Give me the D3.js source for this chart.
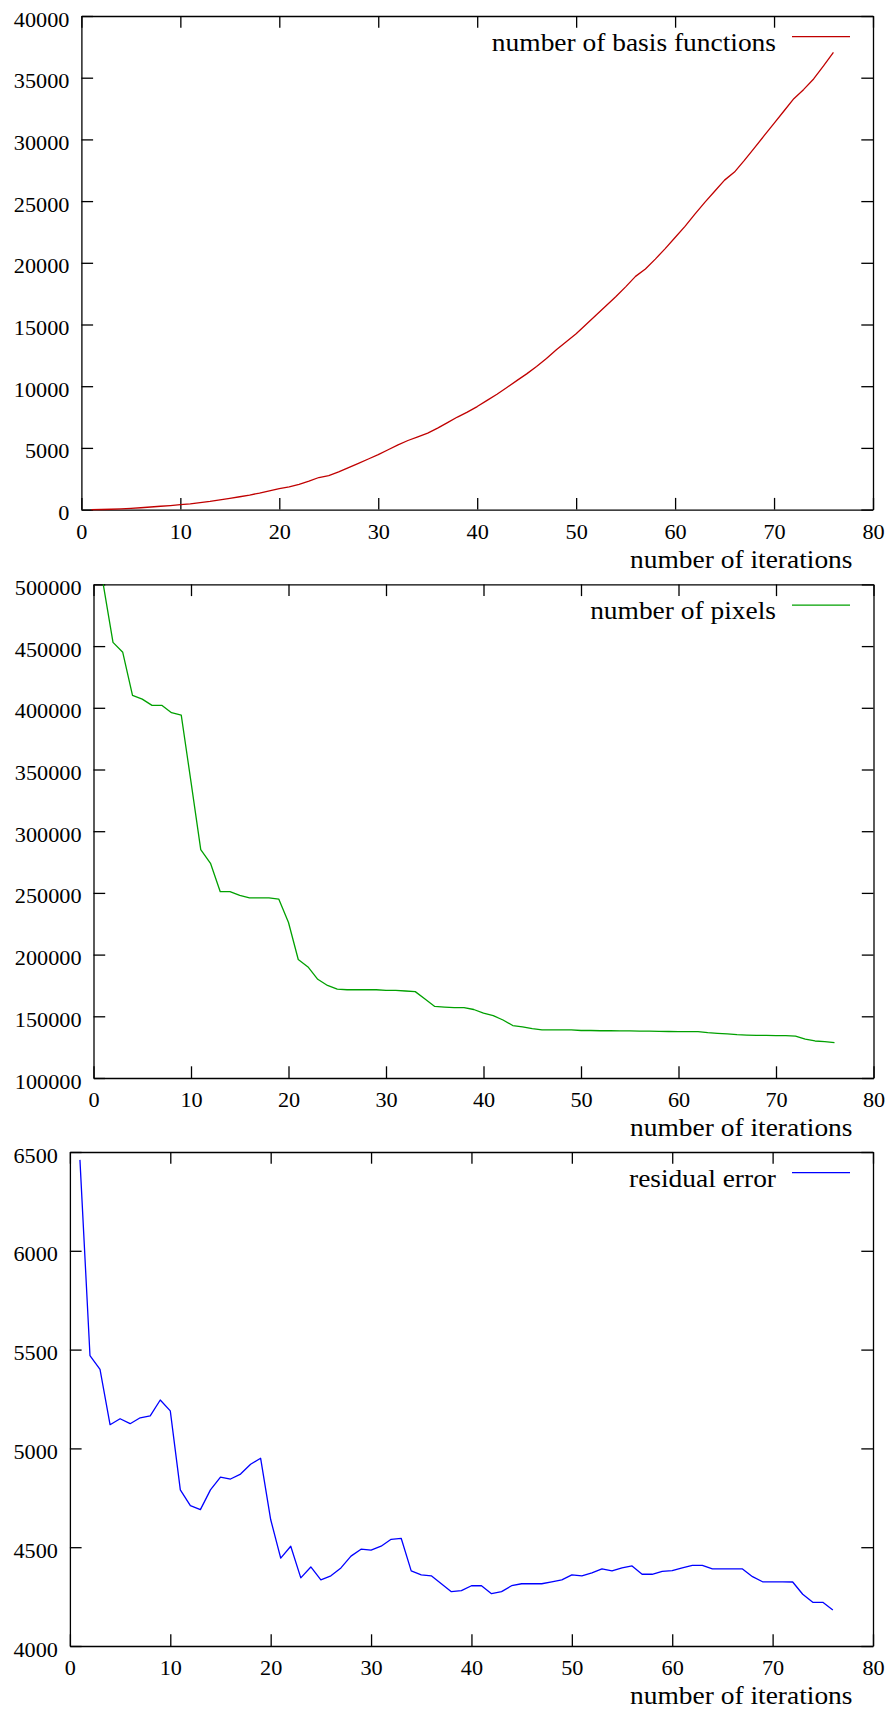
<!DOCTYPE html>
<html>
<head>
<meta charset="utf-8">
<script src="https://cdn.jsdelivr.net/npm/d3@7"></script>
<style>
  body { margin: 0; background: #fff; }
  svg { display: block; }
  text { font-family: "Liberation Serif", "Times New Roman", serif; fill: #000; }
</style>
</head>
<body>
<div id="chart"></div>
<script>
"use strict"

// iteration index for every series
const iterations = [
  1, 2, 3, 4, 5, 6, 7, 8, 9, 10, 11, 12, 13, 14, 15, 16, 17, 18, 19, 20,
  21, 22, 23, 24, 25, 26, 27, 28, 29, 30, 31, 32, 33, 34, 35, 36, 37, 38, 39, 40,
  41, 42, 43, 44, 45, 46, 47, 48, 49, 50, 51, 52, 53, 54, 55, 56, 57, 58, 59, 60,
  61, 62, 63, 64, 65, 66, 67, 68, 69, 70, 71, 72, 73, 74, 75, 76]

const basisFunctions = [
  0, 10, 30, 60, 100, 150, 210, 270, 330, 400,
  470, 560, 660, 780, 910, 1040, 1180, 1340, 1520, 1700,
  1850, 2050, 2300, 2600, 2750, 3050, 3400, 3750, 4100, 4450,
  4850, 5250, 5600, 5900, 6200, 6600, 7050, 7500, 7900, 8350,
  8850, 9350, 9900, 10450, 11000, 11600, 12250, 12950, 13600, 14250,
  15000, 15750, 16500, 17250, 18050, 18900, 19500, 20300, 21150, 22050,
  22950, 23950, 24900, 25800, 26700, 27350, 28300, 29300, 30300, 31300,
  32300, 33300, 34050, 34900, 35950, 37050]

const pixels = [
  500000, 453000, 445000, 410000, 407000, 402000, 402000, 396000, 394000, 340000,
  285000, 274000, 251000, 251000, 248000, 246000, 246000, 246000, 245000, 226000,
  196000, 190000, 180000, 175000, 172000, 171500, 171500, 171500, 171500, 171000,
  171000, 170500, 170000, 164000, 158000, 157500, 157000, 157000, 155500, 152500,
  150500, 147000, 142500, 141500, 140000, 139000, 139000, 139000, 139000, 138500,
  138500, 138300, 138300, 138200, 138200, 138000, 138000, 137800, 137700, 137600,
  137600, 137500, 136700, 136200, 135800, 135100, 134800, 134600, 134500, 134400,
  134300, 134000, 131500, 130000, 129500, 128600]

const residualError = [
  6460, 5470, 5400, 5120, 5150, 5125, 5155, 5165, 5245, 5190,
  4790, 4710, 4690, 4790, 4855, 4845, 4870, 4920, 4950, 4640,
  4445, 4505, 4345, 4400, 4335, 4355, 4395, 4455, 4490, 4485,
  4505, 4540, 4545, 4380, 4360, 4355, 4315, 4275, 4280, 4305,
  4305, 4265, 4275, 4305, 4315, 4315, 4315, 4325, 4335, 4360,
  4355, 4370, 4390, 4380, 4395, 4405, 4363, 4363, 4378, 4381,
  4395, 4408, 4408, 4390, 4390, 4390, 4390, 4351, 4325, 4325,
  4325, 4324, 4262, 4221, 4221, 4182]

const xTicks = [0, 10, 20, 30, 40, 50, 60, 70, 80]
const basisTicks = [0, 5000, 10000, 15000, 20000, 25000, 30000, 35000, 40000]
const pixelTicks = [100000, 150000, 200000, 250000, 300000, 350000, 400000, 450000, 500000]
const errorTicks = [4000, 4500, 5000, 5500, 6000, 6500]

const xLabel = "number of iterations"

const width = 891, height = 1713
const tickLen = 11.7
const FONT = '"Liberation Serif", "Times New Roman", serif'

const svg = d3.select("#chart")
  .append("svg")
  .attr("width", width)
  .attr("height", height)

const panels = [
  {values: basisFunctions, name: "number of basis functions", color: "#c00000",
   yDomain: [0, 40000], yTicks: basisTicks, box: {left: 81.4, right: 873, top: 16, bottom: 509.6}},
  {values: pixels, name: "number of pixels", color: "#00a000",
   yDomain: [100000, 500000], yTicks: pixelTicks, box: {left: 93.5, right: 873.5, top: 584.4, bottom: 1078}},
  {values: residualError, name: "residual error", color: "#0000ff",
   yDomain: [4000, 6500], yTicks: errorTicks, box: {left: 69.9, right: 873, top: 1152, bottom: 1646}}
]

// the reference text is drawn a little wider than tall
function stretched(sel, dx, dy, size, anchor, sx) {
  sel.attr("x", null).attr("y", null).attr("dy", null)
    .attr("transform", `translate(${dx},${dy}) scale(${sx},1)`)
    .attr("text-anchor", anchor)
    .style("font-family", FONT)
    .style("font-size", size + "px")
    .attr("fill", "#000")
}

panels.forEach(p => {
  const b = p.box
  const x = d3.scaleLinear().domain([0, 80]).range([b.left, b.right])
  const y = d3.scaleLinear().domain(p.yDomain).range([b.bottom, b.top])

  const g = svg.append("g")

  // bottom axis with labels, ticks point inward
  const gx = g.append("g")
    .attr("transform", "translate(0," + b.bottom + ")")
    .call(d3.axisBottom(x).tickValues(xTicks).tickSizeInner(-tickLen).tickSizeOuter(0))
  gx.attr("font-family", null).attr("font-size", null)
  gx.selectAll(".tick text").call(stretched, 0, 29.4, 21, "middle", 1.06)

  // left axis
  const gy = g.append("g")
    .attr("transform", "translate(" + b.left + ",0)")
    .call(d3.axisLeft(y).tickValues(p.yTicks).tickFormat(d3.format("d")).tickSizeInner(-tickLen).tickSizeOuter(0))
  gy.attr("font-family", null).attr("font-size", null)
  gy.selectAll(".tick text").call(stretched, -12, 10, 21, "end", 1.06)

  // mirrored ticks on top and right
  g.append("g")
    .attr("transform", "translate(0," + b.top + ")")
    .call(d3.axisTop(x).tickValues(xTicks).tickFormat("").tickSizeInner(-tickLen).tickSizeOuter(0))
  g.append("g")
    .attr("transform", "translate(" + b.right + ",0)")
    .call(d3.axisRight(y).tickValues(p.yTicks).tickFormat("").tickSizeInner(-tickLen).tickSizeOuter(0))

  g.selectAll(".domain, .tick line").attr("stroke", "#000").attr("stroke-width", 1.3)

  // x axis title
  g.append("text").text(xLabel).call(stretched, 852.5, b.bottom + 58, 24.5, "end", 1.12)

  // legend
  g.append("text").text(p.name).call(stretched, 776, b.top + 34.5, 24.5, "end", 1.12)
  g.append("line")
    .attr("x1", 792).attr("x2", 850)
    .attr("y1", b.top + 20.7).attr("y2", b.top + 20.7)
    .attr("stroke", p.color).attr("stroke-width", 1.3)

  // the series
  g.append("path")
    .datum(iterations)
    .attr("fill", "none")
    .attr("stroke", p.color)
    .attr("stroke-width", 1.3)
    .attr("stroke-linejoin", "round")
    .attr("d", d3.line()
      .x(i => x(i))
      .y((i, k) => y(p.values[k]))
    )
})
</script>
</body>
</html>
